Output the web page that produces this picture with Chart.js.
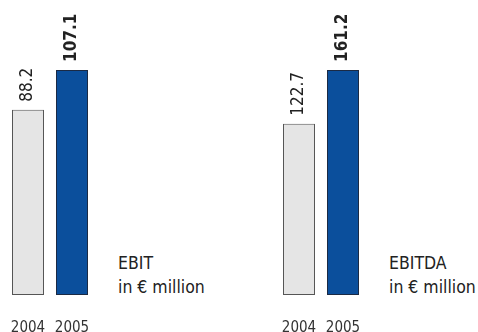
<!DOCTYPE html>
<html>
<head>
<meta charset="utf-8">
<script src="https://cdn.jsdelivr.net/npm/chart.js@4/dist/chart.umd.min.js"></script>
<style>
  html, body { margin: 0; padding: 0; background: #fff; overflow: hidden; }
  body { width: 478px; height: 332px; position: relative; font-family: 'Liberation Sans Narrow', 'DejaVu Sans Condensed', sans-serif; color: #222; }
  canvas { position: absolute; top: 0; }
  .caption { position: absolute; font-size: 17.5px; line-height: 24px; color: #222; white-space: nowrap; }
</style>
</head>
<body>
<canvas id="ebitChart" width="100" height="350" style="left:0"></canvas>
<canvas id="ebitdaChart" width="100" height="350" style="left:271px"></canvas>
<div class="caption" style="left:118px; top:251px">EBIT<br>in € million</div>
<div class="caption" style="left:389px; top:251px">EBITDA<br>in € million</div>

<script>
/* ── data ── */
const years        = ['2004', '2005'];
const ebitValues   = [88.2, 107.1];
const ebitdaValues = [122.7, 161.2];

const FONT = "'Liberation Sans Narrow', 'DejaVu Sans Condensed', sans-serif";
const barFill   = ['#e5e5e5', '#0b4f9c'];
const barBorder = ['#555555', '#1b2a44'];

/* ── rotated value labels above each bar ── */
const valueLabels = {
  id: 'valueLabels',
  afterDatasetsDraw(chart) {
    const ctx = chart.ctx;
    const meta = chart.getDatasetMeta(0);
    const data = chart.data.datasets[0].data;
    meta.data.forEach((bar, i) => {
      ctx.save();
      ctx.translate(bar.x, bar.y - 8);
      ctx.rotate(-Math.PI / 2);
      ctx.font = (i === 1 ? 'bold ' : '') + '17px ' + FONT;
      ctx.fillStyle = '#222';
      ctx.textAlign = 'left';
      ctx.textBaseline = 'middle';
      ctx.fillText(data[i].toFixed(1), 0, 0);
      ctx.restore();
    });
  }
};

function makeChart(id, values) {
  return new Chart(document.getElementById(id), {
    type: 'bar',
    data: {
      labels: years,
      datasets: [{
        data: values,
        backgroundColor: barFill,
        borderColor: barBorder,
        borderWidth: 1,
        borderSkipped: false,
        categoryPercentage: 1,
        barPercentage: 0.727
      }]
    },
    options: {
      responsive: false,
      animation: false,
      layout: { padding: { top: 70, bottom: 12, left: 6, right: 6 } },
      plugins: { legend: { display: false }, tooltip: { enabled: false } },
      scales: {
        x: {
          // tick marks are hidden but their length keeps the year labels low
          grid: { display: false, drawTicks: true, tickLength: 24 },
          border: { display: false },
          ticks: {
            color: '#333',
            font: { family: FONT, size: 15, lineHeight: 1 },
            padding: 2,
            maxRotation: 0,
            minRotation: 0,
            autoSkip: false
          }
        },
        y: {
          display: false,
          min: 0,
          max: Math.max(...values)
        }
      }
    },
    plugins: [valueLabels]
  });
}

makeChart('ebitChart', ebitValues);
makeChart('ebitdaChart', ebitdaValues);
</script>
</body>
</html>
